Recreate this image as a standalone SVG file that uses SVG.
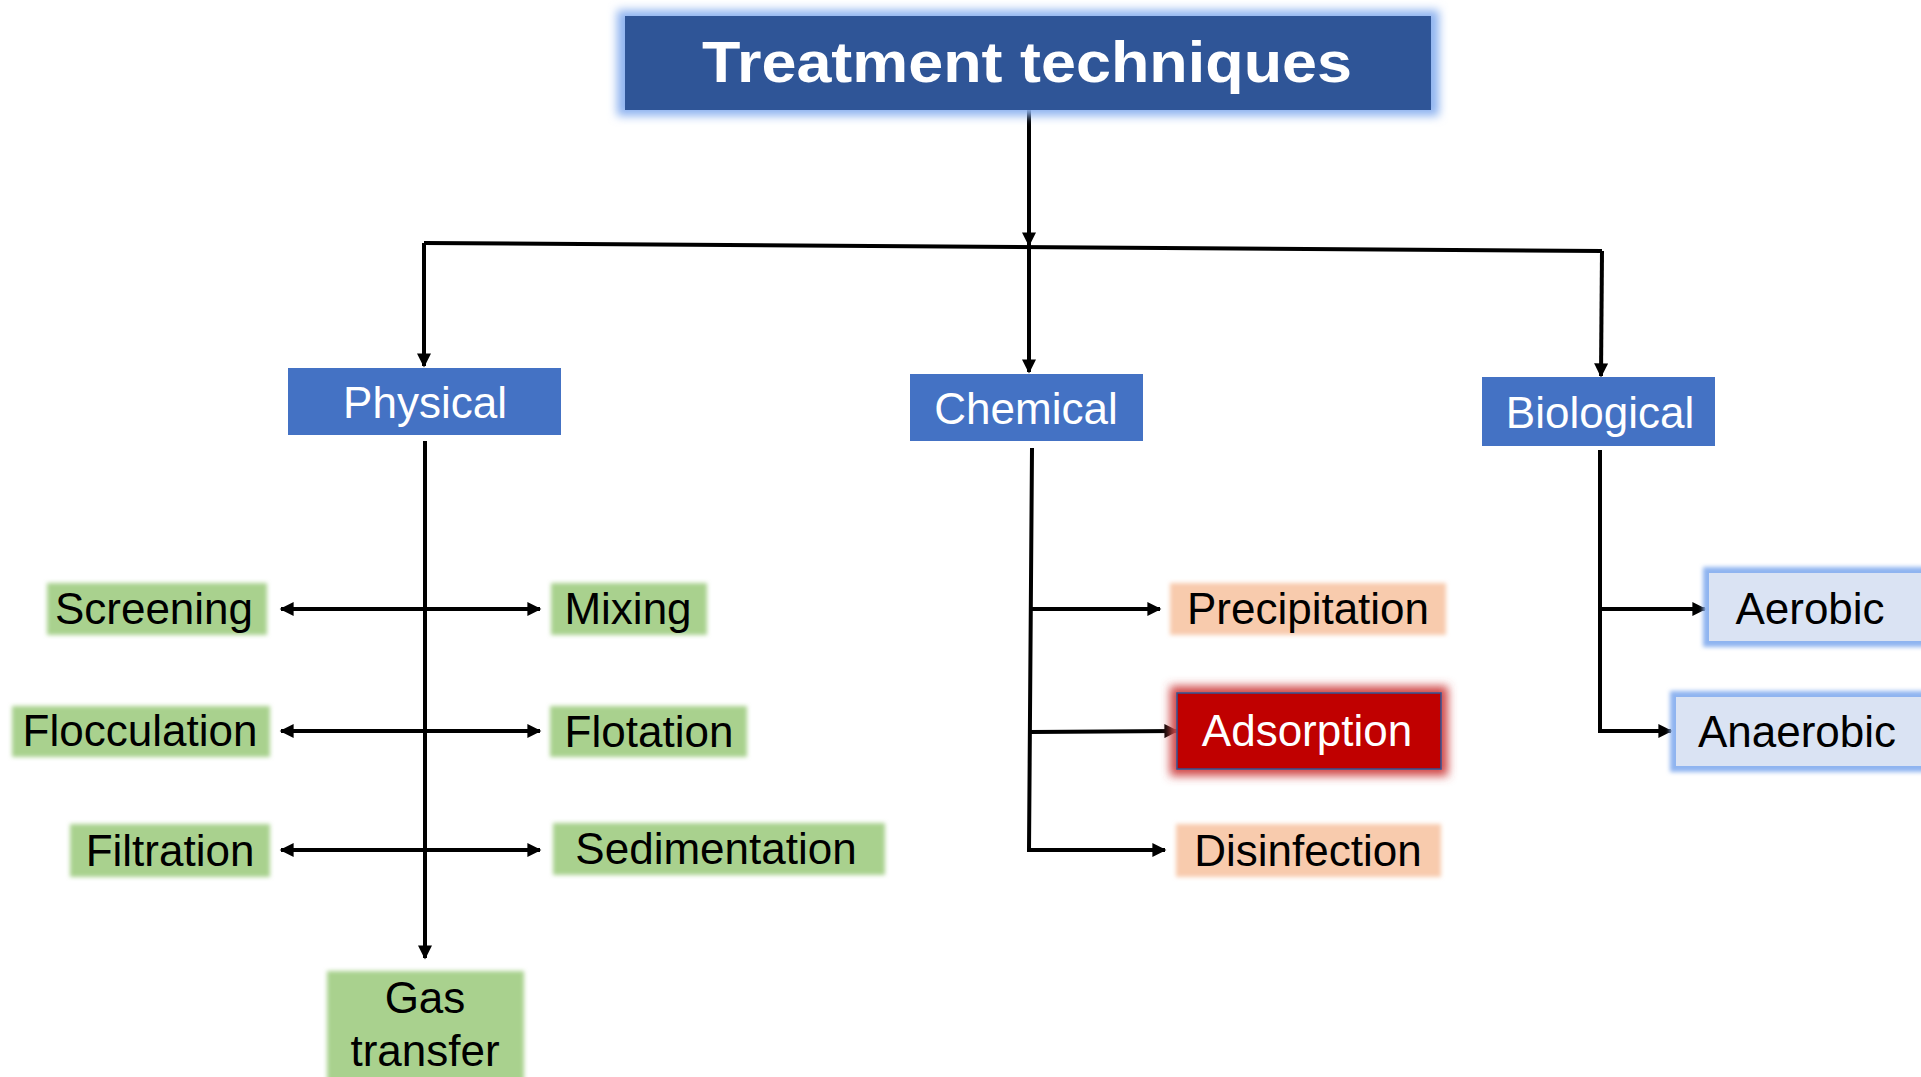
<svg xmlns="http://www.w3.org/2000/svg" width="1921" height="1077" viewBox="0 0 1921 1077">
<defs>
<style>
text{font-family:"Liberation Sans",Arial,sans-serif;text-anchor:middle}
.cat{fill:#4472C4}
.cattxt{fill:#fff;font-size:44px}
.leaf{font-size:44px;fill:#000}
.green{fill:#A9D18E}
.peach{fill:#F8CBAD}
.conn{stroke:#000;stroke-width:4;fill:none}
</style>
<filter id="soft" x="-10%" y="-20%" width="120%" height="140%"><feGaussianBlur stdDeviation="2"/></filter>
<filter id="glowBlue" x="-10%" y="-30%" width="120%" height="160%"><feGaussianBlur stdDeviation="5"/></filter>
<filter id="glowRed" x="-10%" y="-30%" width="120%" height="160%"><feGaussianBlur stdDeviation="5"/></filter>
<marker id="arr" viewBox="0 0 10 10" refX="9" refY="5" markerWidth="15" markerHeight="14" markerUnits="userSpaceOnUse" orient="auto-start-reverse"><path d="M0,0 L10,5 L0,10 Z" fill="#000"/></marker>
</defs>

<g id="connectors">
<line class="conn" x1="1029" y1="110" x2="1029" y2="245" marker-end="url(#arr)"/>
<line class="conn" x1="424" y1="243" x2="1602" y2="251"/>
<line class="conn" x1="424" y1="243" x2="424" y2="366" marker-end="url(#arr)"/>
<line class="conn" x1="1029" y1="245" x2="1029" y2="372" marker-end="url(#arr)"/>
<line class="conn" x1="1602" y1="251" x2="1601" y2="376" marker-end="url(#arr)"/>
<line class="conn" x1="425" y1="441" x2="425" y2="958" marker-end="url(#arr)"/>
<line class="conn" x1="281" y1="609" x2="540" y2="609" marker-start="url(#arr)" marker-end="url(#arr)"/>
<line class="conn" x1="281" y1="731" x2="540" y2="731" marker-start="url(#arr)" marker-end="url(#arr)"/>
<line class="conn" x1="281" y1="850" x2="540" y2="850" marker-start="url(#arr)" marker-end="url(#arr)"/>
<polyline class="conn" points="1032,448 1029,850 1165,850" marker-end="url(#arr)"/>
<line class="conn" x1="1031" y1="609" x2="1160" y2="609" marker-end="url(#arr)"/>
<line class="conn" x1="1031" y1="732" x2="1177" y2="731" marker-end="url(#arr)"/>
<polyline class="conn" points="1600,450 1600,731 1671,731" marker-end="url(#arr)"/>
<line class="conn" x1="1600" y1="609" x2="1705" y2="609" marker-end="url(#arr)"/>
</g>

<g id="title">
<rect x="617" y="10" width="822" height="106" fill="#8FB4F0" filter="url(#glowBlue)"/>
<rect x="625" y="16" width="806" height="94" fill="#2F5597"/>
<text x="1027" y="82" fill="#fff" font-size="58" font-weight="bold" textLength="650" lengthAdjust="spacingAndGlyphs">Treatment techniques</text>
</g>

<g id="physical">
<rect class="cat" x="288" y="368" width="273" height="67"/>
<text class="cattxt" x="425" y="418">Physical</text>
</g>
<g id="chemical">
<rect class="cat" x="910" y="374" width="233" height="67"/>
<text class="cattxt" x="1026" y="424">Chemical</text>
</g>
<g id="biological">
<rect class="cat" x="1482" y="377" width="233" height="69"/>
<text class="cattxt" x="1600" y="428">Biological</text>
</g>

<g id="screening">
<rect class="green" x="47" y="583" width="220" height="52" filter="url(#soft)"/>
<text class="leaf" x="154" y="624">Screening</text>
</g>
<g id="mixing">
<rect class="green" x="551" y="583" width="156" height="52" filter="url(#soft)"/>
<text class="leaf" x="628" y="624">Mixing</text>
</g>
<g id="flocculation">
<rect class="green" x="12" y="706" width="258" height="51" filter="url(#soft)"/>
<text class="leaf" x="140" y="746">Flocculation</text>
</g>
<g id="flotation">
<rect class="green" x="550" y="706" width="197" height="51" filter="url(#soft)"/>
<text class="leaf" x="649" y="747">Flotation</text>
</g>
<g id="filtration">
<rect class="green" x="70" y="824" width="200" height="53" filter="url(#soft)"/>
<text class="leaf" x="170" y="866">Filtration</text>
</g>
<g id="sedimentation">
<rect class="green" x="553" y="823" width="332" height="52" filter="url(#soft)"/>
<text class="leaf" x="716" y="864">Sedimentation</text>
</g>
<g id="gas-transfer">
<rect class="green" x="327" y="971" width="197" height="112" filter="url(#soft)"/>
<text class="leaf" x="425" y="1013">Gas</text>
<text class="leaf" x="425" y="1066">transfer</text>
</g>

<g id="precipitation">
<rect class="peach" x="1170" y="583" width="276" height="52" filter="url(#soft)"/>
<text class="leaf" x="1308" y="624">Precipitation</text>
</g>
<g id="adsorption">
<rect x="1170" y="686" width="278" height="90" fill="#D04848" filter="url(#glowRed)"/>
<rect x="1177" y="693" width="264" height="76" fill="#C00000" stroke="#2F5597" stroke-width="1.5"/>
<text class="leaf" x="1307" y="746" style="fill:#fff">Adsorption</text>
</g>
<g id="disinfection">
<rect class="peach" x="1176" y="824" width="265" height="53" filter="url(#soft)"/>
<text class="leaf" x="1308" y="866">Disinfection</text>
</g>

<g id="aerobic">
<rect x="1703" y="567" width="225" height="80" fill="#8FB4F0" filter="url(#soft)"/>
<rect x="1709" y="573" width="215" height="68" fill="#DAE3F3"/>
<text class="leaf" x="1810" y="624">Aerobic</text>
</g>
<g id="anaerobic">
<rect x="1670" y="691" width="258" height="81" fill="#8FB4F0" filter="url(#soft)"/>
<rect x="1676" y="697" width="248" height="69" fill="#DAE3F3"/>
<text class="leaf" x="1797" y="747">Anaerobic</text>
</g>
</svg>
